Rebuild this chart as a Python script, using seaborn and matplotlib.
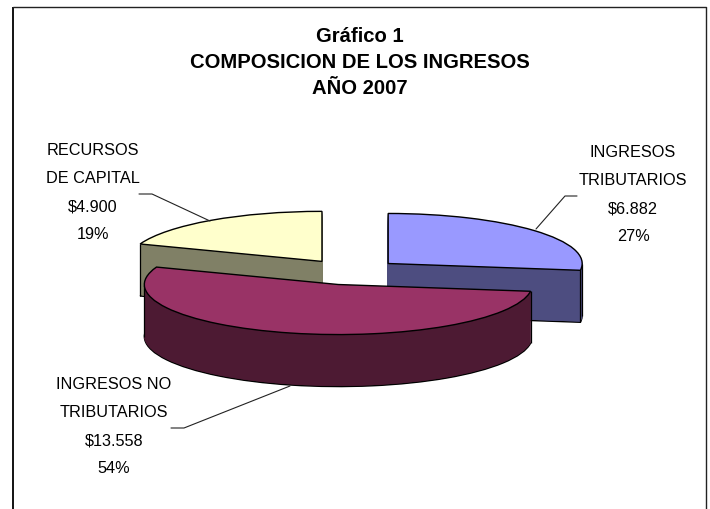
import numpy as np
import matplotlib
matplotlib.use("Agg")
import matplotlib.pyplot as plt
import seaborn as sns

title_lines = ["Gráfico 1", "COMPOSICION DE LOS INGRESOS", "AÑO 2007"]
categories = [["INGRESOS", "TRIBUTARIOS"], ["INGRESOS NO", "TRIBUTARIOS"], ["RECURSOS", "DE CAPITAL"]]
values = [6882, 13558, 4900]
percents = ["27%", "54%", "19%"]
top_colors = ["#9999FF", "#993366", "#FFFFCC"]
side_colors = ["#4D4D80", "#4D1A33", "#808066"]

sns.set_theme(style="white")
plt.rcParams["font.family"] = ["Liberation Sans", "DejaVu Sans"]

W, H = 710, 510
SQUASH = 0.258
RADIUS = 194
EXPLODE = 50  # matplotlib adds this to the wedge centre in data units
CX, CY = 350.5, 273
DEPTH = 52

fig = plt.figure(figsize=(W / 100, H / 100), dpi=100, facecolor="white")
ax = fig.add_axes([0, 0, 1, 1])
ax.patch.set_alpha(0)


def data_y(py):
    return (H - py) / SQUASH


zorders = [3, 5, 1]  # blue, magenta, yellow: back to front by slice
explode = [EXPLODE] * len(values)

for d in range(DEPTH, -1, -1):
    is_bottom = d == DEPTH
    is_top = d == 0
    colors = top_colors if is_top else side_colors
    wedges, _ = ax.pie(
        values, explode=explode, colors=colors, startangle=90, counterclock=False,
        radius=RADIUS, center=(CX, data_y(CY + d)), frame=True,
        wedgeprops={"linewidth": 0},
    )
    for i, w in enumerate(wedges):
        w.set_zorder(zorders[i] + (1 if is_top else 0))
        if is_top or is_bottom:
            w.set_edgecolor("black")
            w.set_linewidth(1.0)
        else:
            w.set_edgecolor(side_colors[i])
            w.set_linewidth(0.5)
    if is_top:
        top_wedges = wedges

# vertical silhouette edges of the side walls
for i, w in enumerate(top_wedges):
    cx, cy = w.center
    t1, t2 = w.theta1, w.theta2
    outer = [a for a in (t1, t2) if not (85 < a % 360 < 95)]
    if t1 < -180 < t2:
        outer.remove(t1)  # this corner lies on the back of the slice, out of sight
    for extreme in (0, 180, 360, -180):
        if t1 <= extreme <= t2:
            outer.append(extreme)
    for a in outer:
        x = cx + RADIUS * np.cos(np.radians(a))
        y = cy + RADIUS * np.sin(np.radians(a))
        ax.plot([x, x], [y, y - DEPTH / SQUASH], color="black", lw=0.9,
                zorder=zorders[i] + 0.5, solid_capstyle="butt")

ax.set_aspect("auto")
ax.set_xlim(0, W)
ax.set_ylim(0, H / SQUASH)
ax.set_xticks([])
ax.set_yticks([])
sns.despine(ax=ax, left=True, bottom=True)

# overlay in pixel coordinates: frame, leaders, text
ov = fig.add_axes([0, 0, 1, 1], zorder=10)
ov.patch.set_alpha(0)
ov.set_xlim(0, W)
ov.set_ylim(H, 0)
ov.axis("off")

ov.plot([12.5, 12.5], [H, 7.5], color="black", lw=1.3, solid_capstyle="butt")
ov.plot([12.5, 705.5], [7.5, 7.5], color="#222222", lw=1.0)
ov.plot([705.5, 705.5], [7.5, H], color="#222222", lw=1.0, solid_capstyle="butt")

ov.plot([139, 152, 210], [195, 195, 222], color="#222222", lw=0.8)
ov.plot([577, 565, 536], [197, 197, 230], color="#222222", lw=0.8)
ov.plot([171, 184, 290], [429, 429, 387], color="#222222", lw=0.8)

for y, line in zip((37, 62, 88), title_lines):
    ov.text(360, y, line, ha="center", va="center", fontsize=14.6, fontweight="bold", color="black")

label_pos = [(633, 153), (114, 385), (93, 151)]
for (x, y), cat, v, p in zip(label_pos, categories, values, percents):
    money = "$" + f"{v:,}".replace(",", ".")
    for j, line in enumerate(cat + [money, p]):
        ov.text(x, y + 27.8 * j, line, ha="center", va="center", fontsize=11.7, color="black")

fig.savefig("out.png", dpi=100)
